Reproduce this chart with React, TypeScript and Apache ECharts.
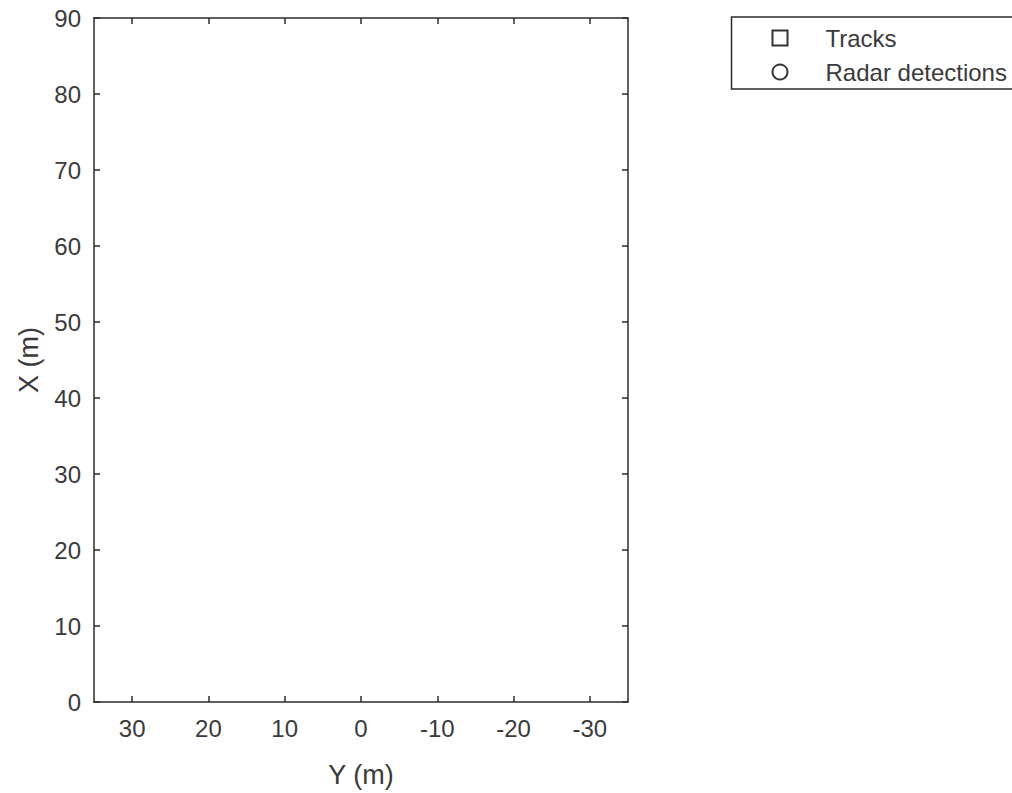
import React, { useEffect, useRef } from "react";
import * as echarts from "echarts";

const seriesNames = ["Tracks", "Radar detections"];
const seriesSymbols = ["rect", "circle"];
const tracksData: number[][] = [];
const detectionsData: number[][] = [];
const yTicks = [-30, -20, -10, 0, 10, 20, 30];
const xRange = [-35, 35];
const vRange = [0, 90];
const vInterval = 10;
const xAxisName = "Y (m)";
const yAxisName = "X (m)";

const AXIS_COLOR = "#2b2b2b";
const TEXT_COLOR = "#3a3a3a";
const FONT = "'Liberation Sans', Arial, Helvetica, sans-serif";

export default function App() {
  const ref = useRef<HTMLDivElement>(null);
  useEffect(() => {
    if (!ref.current) return;
    const chart = echarts.init(ref.current, null, { renderer: "svg" });
    const axisLine = { show: true, onZero: false, lineStyle: { color: AXIS_COLOR, width: 1.5 } };
    const tick = (custom?: number[]) => ({
      show: true,
      inside: true,
      length: 6,
      lineStyle: { color: AXIS_COLOR, width: 1.5 },
      ...(custom ? { customValues: custom } : {}),
    });
    chart.setOption({
      animation: false,
      backgroundColor: "#ffffff",
      textStyle: { fontFamily: FONT },
      grid: { left: 94, top: 18, width: 534, height: 684, containLabel: false },
      legend: {
        orient: "vertical",
        left: 731.5,
        top: 17,
        align: "left",
        padding: [8, 40, 4, 40],
        itemGap: 8,
        itemWidth: 15,
        itemHeight: 15,
        backgroundColor: "#ffffff",
        borderColor: AXIS_COLOR,
        borderWidth: 1.5,
        borderRadius: 0,
        selectedMode: false,
        textStyle: {
          fontFamily: FONT,
          fontSize: 24,
          color: TEXT_COLOR,
          lineHeight: 26,
          padding: [0, 0, 0, 33],
        },
        data: seriesNames.map((n, i) => ({
          name: n,
          icon: seriesSymbols[i],
          itemStyle: { color: "#ffffff", borderColor: "#000000", borderWidth: 2 },
        })),
      },
      xAxis: [
        {
          type: "value",
          position: "bottom",
          min: xRange[0],
          max: xRange[1],
          inverse: true,
          name: xAxisName,
          nameLocation: "middle",
          nameGap: 59,
          nameTextStyle: { fontFamily: FONT, fontSize: 27, color: TEXT_COLOR },
          axisLine,
          axisTick: tick(yTicks),
          axisLabel: {
            show: true,
            customValues: yTicks,
            margin: 14,
            fontFamily: FONT,
            fontSize: 24,
            color: TEXT_COLOR,
            formatter: (v: number) => String(v),
          },
          splitLine: { show: false },
        },
        {
          type: "value",
          position: "top",
          min: xRange[0],
          max: xRange[1],
          inverse: true,
          axisLine,
          axisTick: tick(yTicks),
          axisLabel: { show: false },
          splitLine: { show: false },
        },
      ],
      yAxis: [
        {
          type: "value",
          position: "left",
          min: vRange[0],
          max: vRange[1],
          interval: vInterval,
          name: yAxisName,
          nameLocation: "middle",
          nameGap: 52,
          nameTextStyle: { fontFamily: FONT, fontSize: 27, color: TEXT_COLOR },
          axisLine,
          axisTick: tick(),
          axisLabel: { show: true, margin: 13, fontFamily: FONT, fontSize: 24, color: TEXT_COLOR },
          splitLine: { show: false },
        },
        {
          type: "value",
          position: "right",
          min: vRange[0],
          max: vRange[1],
          interval: vInterval,
          axisLine,
          axisTick: tick(),
          axisLabel: { show: false },
          splitLine: { show: false },
        },
      ],
      series: [
        {
          name: seriesNames[0],
          type: "scatter",
          symbol: seriesSymbols[0],
          data: tracksData,
          itemStyle: { color: "#ffffff", borderColor: "#000000", borderWidth: 2 },
        },
        {
          name: seriesNames[1],
          type: "scatter",
          symbol: seriesSymbols[1],
          data: detectionsData,
          itemStyle: { color: "#ffffff", borderColor: "#000000", borderWidth: 2 },
        },
      ],
    });
    return () => chart.dispose();
  }, []);
  return (
    <div
      style={{
        position: "fixed",
        left: 0,
        top: 0,
        width: 1012,
        height: 793,
        overflow: "hidden",
        background: "#fff",
      }}
    >
      <div ref={ref} style={{ width: 1100, height: 793 }} />
    </div>
  );
}
